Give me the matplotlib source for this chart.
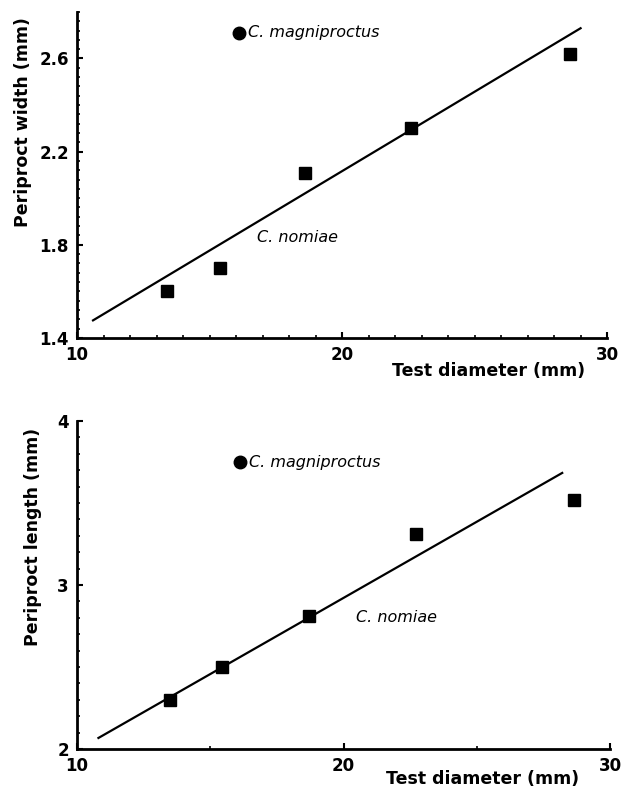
import matplotlib
matplotlib.use("Agg")
import matplotlib.pyplot as plt
import numpy as np
from matplotlib.ticker import MultipleLocator, FixedLocator

# Periproct size vs test diameter, C. nomiae (squares) with fitted line
diam_w = [13.4, 15.4, 18.6, 22.6, 28.6]
width = [1.60, 1.70, 2.11, 2.30, 2.62]
fit_w_x = [10.6, 29.0]
fit_w = (0.0682, 0.752)          # slope, intercept
magni_w = (16.1, 2.71)

diam_l = [13.5, 15.45, 18.7, 22.7, 28.65]
length = [2.30, 2.50, 2.81, 3.31, 3.52]
fit_l_x = [10.8, 28.2]
fit_l = (0.0929, 1.064)
magni_l = (16.1, 3.75)

FONT = "DejaVu Sans"
plt.rcParams["font.family"] = FONT

fig = plt.figure(figsize=(6.22, 7.93), dpi=100)
ax1 = fig.add_axes([0.124, 0.574, 0.852, 0.411])
ax2 = fig.add_axes([0.124, 0.0555, 0.857, 0.4135])


def style(ax):
    for s in ("top", "right"):
        ax.spines[s].set_visible(False)
    for s in ("left", "bottom"):
        ax.spines[s].set_linewidth(2.0)
    ax.tick_params(which="major", direction="in", length=4, width=1.5,
                   labelsize=12, pad=6)
    ax.tick_params(which="minor", direction="in", length=2.5, width=1.2)
    for lab in ax.get_xticklabels() + ax.get_yticklabels():
        lab.set_fontweight("bold")


def panel(ax, x, y, fx, fit, magni, ylabel, nomiae_xy):
    xs = np.array(fx)
    ax.plot(xs, fit[0] * xs + fit[1], color="black", lw=1.6, zorder=2)
    ax.plot(x, y, "s", color="black", ms=8.5, zorder=3)
    ax.plot(*magni, "o", color="black", ms=9, zorder=3)
    ax.text(magni[0] + 0.35, magni[1], "C. magniproctus", style="italic",
            fontsize=11.5, va="center", ha="left")
    ax.text(*nomiae_xy, "C. nomiae", style="italic", fontsize=11.5,
            va="center", ha="left")
    ax.set_ylabel(ylabel, fontsize=12.5, fontweight="bold")
    ax.set_xlabel("Test diameter (mm)", fontsize=12.5, fontweight="bold")
    ax.set_xlim(10, 30)
    ax.set_xticks([10, 20, 30])


panel(ax1, diam_w, width, fit_w_x, fit_w, magni_w,
      "Periproct width (mm)", (16.8, 1.83))
ax1.set_ylim(1.4, 2.8)
ax1.set_yticks([1.4, 1.8, 2.2, 2.6])
ax1.set_yticklabels(["1.4", "1.8", "2.2", "2.6"])
ax1.yaxis.set_minor_locator(MultipleLocator(0.04))
ax1.xaxis.set_minor_locator(MultipleLocator(1))
ax1.xaxis.set_label_coords(0.776, -0.075)
ax1.yaxis.set_label_coords(-0.085, 0.663)

panel(ax2, diam_l, length, fit_l_x, fit_l, magni_l,
      "Periproct length (mm)", (20.45, 2.80))
ax2.set_ylim(2, 4)
ax2.set_yticks([2, 3, 4])
ax2.yaxis.set_minor_locator(MultipleLocator(0.1))
ax2.xaxis.set_minor_locator(FixedLocator([15, 25]))
ax2.xaxis.set_label_coords(0.76, -0.065)
ax2.yaxis.set_label_coords(-0.066, 0.646)

style(ax1)
style(ax2)

fig.savefig("out.png", dpi=100)
